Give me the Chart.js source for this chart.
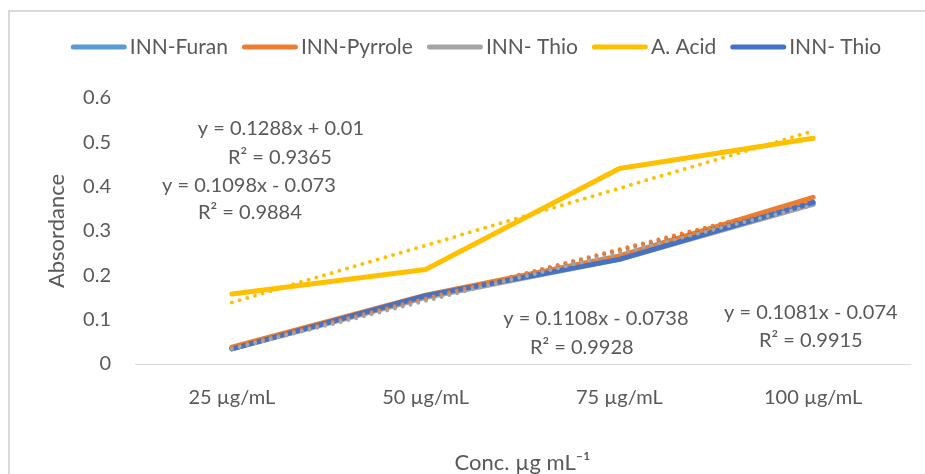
<!DOCTYPE html>
<html>
<head>
<meta charset="utf-8">
<script src="https://cdn.jsdelivr.net/npm/chart.js@4/dist/chart.umd.min.js"></script>
<style>
    html, body { margin: 0; padding: 0; background: #fff; overflow: hidden; }
    #frame { position: absolute; left: 8px; top: 10px; width: 960px; height: 500px;
        border-left: 2px solid #d9d9d9; border-top: 2px solid #d9d9d9; }
    #absorbChart { position: absolute; left: 0; top: 0; }
</style>
</head>
<body>
<div id="frame"></div>
<canvas id="absorbChart" width="925" height="474"></canvas>
<script>
// categories and series
const categories = ['25 µg/mL', '50 µg/mL', '75 µg/mL', '100 µg/mL'];
const innFuran = [0.035, 0.152, 0.238, 0.365];
const innPyrrole = [0.038, 0.155, 0.244, 0.376];
const innThioGray = [0.034, 0.150, 0.236, 0.360];
const aceticAcid = [0.158, 0.213, 0.441, 0.509];
const innThioBlue = [0.034, 0.154, 0.236, 0.364];
const yTicks = [0, 0.1, 0.2, 0.3, 0.4, 0.5, 0.6];

// trendline equations shown on the chart: [slope, intercept]
const fitAcid = [0.1288, 0.01];
const fitPyrrole = [0.1108, -0.0738];
const fitThioBlue = [0.1098, -0.073];
const fitThioGray = [0.1081, -0.074];

const eqTexts = ['y = 0.1288x + 0.01', 'R² = 0.9365', 'y = 0.1098x - 0.073', 'R² = 0.9884',
    'y = 0.1108x - 0.0738', 'R² = 0.9928', 'y = 0.1081x - 0.074', 'R² = 0.9915'];
// where each label sits, in category index / value units
const eqPlaces = [[0.253, 0.532], [0.248, 0.465], [0.088, 0.402], [0.093, 0.341],
    [1.879, 0.102], [1.806, 0.036], [2.988, 0.117], [2.988, 0.054]];

const FONT = 'Lato, "Noto Sans", sans-serif';
const TEXT = '#595959';

function trend(fit) {
    // Excel x runs 1..n over the categories; only the two ends are needed for a straight line
    return categories.map((c, i) => (i === 0 || i === categories.length - 1) ? fit[0] * (i + 1) + fit[1] : null);
}

function solid(label, data, color) {
    return { label: label, data: data, borderColor: color, backgroundColor: color, borderWidth: 5,
        pointRadius: 0, tension: 0, borderCapStyle: 'round', borderJoinStyle: 'round' };
}

function dotted(data, color) {
    return { label: '', data: data, borderColor: color, borderWidth: 4, pointRadius: 0, spanGaps: true,
        borderDash: [0, 8], borderCapStyle: 'round', trend: true };
}

const legendAndLabels = {
    id: 'legendAndLabels',
    afterDraw(chart) {
        const ctx = chart.ctx;
        const xs = chart.scales.x, ys = chart.scales.y;
        ctx.save();
        ctx.fillStyle = TEXT;
        ctx.font = '20px ' + FONT;
        ctx.textAlign = 'center';
        ctx.textBaseline = 'middle';
        eqTexts.forEach((t, i) => {
            ctx.fillText(t, xs.getPixelForValue(eqPlaces[i][0]), ys.getPixelForValue(eqPlaces[i][1]));
        });

        // legend: series only, no trendlines (datasets are stored in reverse draw order)
        ctx.font = '21px ' + FONT;
        const items = chart.data.datasets.filter(d => !d.trend).slice().reverse();
        const lineLen = 56, gapText = 3, gapItem = 14;
        let total = 0;
        items.forEach(d => { total += lineLen + gapText + ctx.measureText(d.label).width + gapItem; });
        total -= gapItem;
        let x = 476 - total / 2;
        const y = 47;
        ctx.textAlign = 'left';
        items.forEach(d => {
            ctx.strokeStyle = d.borderColor;
            ctx.lineWidth = 5;
            ctx.lineCap = 'round';
            ctx.beginPath();
            ctx.moveTo(x + 2.5, y);
            ctx.lineTo(x + lineLen - 2.5, y);
            ctx.stroke();
            x += lineLen + gapText;
            ctx.fillText(d.label, x, y);
            x += ctx.measureText(d.label).width + gapItem;
        });
        ctx.restore();
    }
};

const ctx = document.getElementById('absorbChart').getContext('2d');
const absorbChart = new Chart(ctx, {
    type: 'line',
    data: {
        labels: categories,
        datasets: [
            solid('INN-Furan', innFuran, '#5b9bd5'),
            solid('INN-Pyrrole', innPyrrole, '#ed7d31'),
            solid('INN- Thio', innThioGray, '#a5a5a5'),
            solid('A. Acid', aceticAcid, '#ffc000'),
            solid('INN- Thio', innThioBlue, '#4472c4'),
            dotted(trend(fitThioBlue), '#4472c4'),
            dotted(trend(fitPyrrole), '#ed7d31'),
            dotted(trend(fitThioGray), '#a5a5a5'),
            dotted(trend(fitAcid), '#ffc000')
        ].reverse()
    },
    options: {
        responsive: false,
        animation: false,
        layout: { padding: { left: 0, right: 15, top: 98, bottom: 0 } },
        plugins: {
            legend: { display: false },
            tooltip: { enabled: false }
        },
        scales: {
            x: {
                offset: true,
                grid: { display: false },
                border: { display: true, color: '#d9d9d9', width: 1 },
                ticks: { color: TEXT, font: { family: FONT, size: 20 }, padding: 14, maxRotation: 0 },
                title: { display: true, text: 'Conc. µg mL⁻¹', color: TEXT,
                    font: { family: FONT, size: 22, lineHeight: 1 }, padding: 0 },
                afterFit: s => { s.height = 110; }
            },
            y: {
                min: 0,
                max: 0.6,
                grid: { display: false },
                border: { display: false },
                afterBuildTicks: s => { s.ticks = yTicks.map(v => ({ value: v })); },
                ticks: { color: TEXT, font: { family: FONT, size: 20 }, padding: 16 },
                title: { display: true, text: 'Absordance', color: TEXT,
                    font: { family: FONT, size: 22, lineHeight: 1 }, padding: { top: 46 } },
                afterFit: s => { s.width = 135; }
            }
        }
    },
    plugins: [legendAndLabels]
});
</script>
</body>
</html>
